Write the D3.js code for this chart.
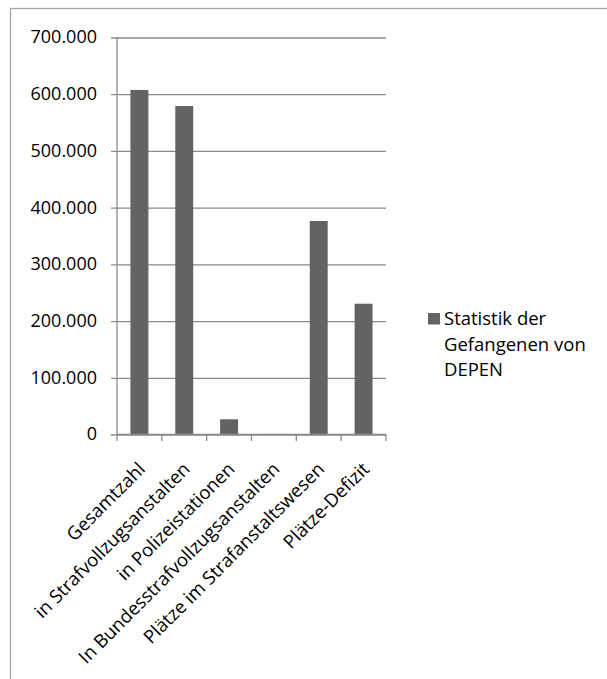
<!DOCTYPE html>
<html>
<head>
<meta charset="utf-8">
<script src="https://cdn.jsdelivr.net/npm/d3@7"></script>
<style>
    body { margin: 0; background: #fff; }
    svg { display: block; font-family: "Open Sans", sans-serif; }
</style>
</head>
<body>
<div id="chart"></div>
<script>
const categories = [
    "Gesamtzahl",
    "in Strafvollzugsanstalten",
    "in Polizeistationen",
    "In Bundesstrafvollzugsanstalten",
    "Plätze im Strafanstaltswesen",
    "Plätze-Defizit",
]
const values = [607500, 579200, 26800, 1000, 376500, 230600]
const yTicks = [0, 100000, 200000, 300000, 400000, 500000, 600000, 700000]
const seriesName = "Statistik der Gefangenen von DEPEN"
const legendLines = ["Statistik der", "Gefangenen von", "DEPEN"]

const width = 607
const height = 679
const plot = { left: 117, right: 386, top: 37.5, bottom: 434.5 }
const barColor = "#636363"
const gridColor = "#8a8a8a"

const svg = d3.select("#chart").append("svg").attr("width", width).attr("height", height)

// outer chart border (only top/left visible in the crop)
svg.append("rect")
    .attr("x", 10.5).attr("y", 8.5)
    .attr("width", 620).attr("height", 700)
    .attr("fill", "none").attr("stroke", "#a6a6a6").attr("stroke-width", 1.3)

const x = d3.scaleBand().domain(categories).range([plot.left, plot.right]).paddingInner(0.6).paddingOuter(0.3)
const xBand = d3.scaleBand().domain(categories).range([plot.left, plot.right])
const y = d3.scaleLinear().domain([0, 700000]).range([plot.bottom, plot.top])

const fmt = (v) => d3.format(",")(v).replace(/,/g, ".")

// gridlines + y labels
const yAxis = svg.append("g").attr("transform", `translate(${plot.left},0)`)
    .call(d3.axisLeft(y).tickValues(yTicks).tickSize(-(plot.right - plot.left)).tickSizeOuter(0).tickFormat(fmt).tickPadding(20))
yAxis.select(".domain").remove()
yAxis.selectAll(".tick line").attr("stroke", gridColor).attr("stroke-width", 1.3).attr("x1", -6)
yAxis.selectAll(".tick text").attr("font-size", 18).attr("fill", "#000").attr("font-family", "Open Sans").attr("dy", "0.3em")

// bars
svg.append("g").selectAll("rect").data(values).enter().append("rect")
    .attr("x", (d, i) => x(categories[i]))
    .attr("width", x.bandwidth())
    .attr("y", (d) => y(d))
    .attr("height", (d) => y(0) - y(d))
    .attr("fill", barColor)

// y axis line
svg.append("line")
    .attr("x1", plot.left).attr("x2", plot.left)
    .attr("y1", plot.top).attr("y2", plot.bottom)
    .attr("stroke", gridColor).attr("stroke-width", 1.3)

// x axis line + ticks at band boundaries
const xg = svg.append("g")
xg.append("line")
    .attr("x1", plot.left).attr("x2", plot.right)
    .attr("y1", plot.bottom).attr("y2", plot.bottom)
    .attr("stroke", gridColor).attr("stroke-width", 1.3)
const boundaries = categories.map((c) => xBand(c)).concat([plot.right])
xg.selectAll(".xtick").data(boundaries).enter().append("line")
    .attr("x1", (d) => d).attr("x2", (d) => d)
    .attr("y1", plot.bottom).attr("y2", plot.bottom + 6.5)
    .attr("stroke", gridColor).attr("stroke-width", 1.3)

// rotated category labels
xg.selectAll(".xlabel").data(categories).enter().append("text")
    .attr("transform", (d) => `translate(${xBand(d) + xBand.bandwidth() / 2 - 3},${plot.bottom + 26}) rotate(-45)`)
    .attr("text-anchor", "end")
    .attr("dy", "0.75em")
    .attr("font-size", 18.5)
    .attr("fill", "#000")
    .text((d) => d)

// legend
const legend = svg.append("g").attr("transform", "translate(428,313)")
legend.append("rect").attr("width", 12).attr("height", 11.5).attr("fill", barColor)
legend.append("text")
    .attr("x", 16).attr("y", 12)
    .attr("font-size", 18.5)
    .attr("fill", "#000")
    .attr("aria-label", seriesName)
    .selectAll("tspan").data(legendLines).enter().append("tspan")
    .attr("x", 16)
    .attr("dy", (d, i) => (i === 0 ? 0 : 25.5))
    .text((d) => d)
</script>
</body>
</html>
